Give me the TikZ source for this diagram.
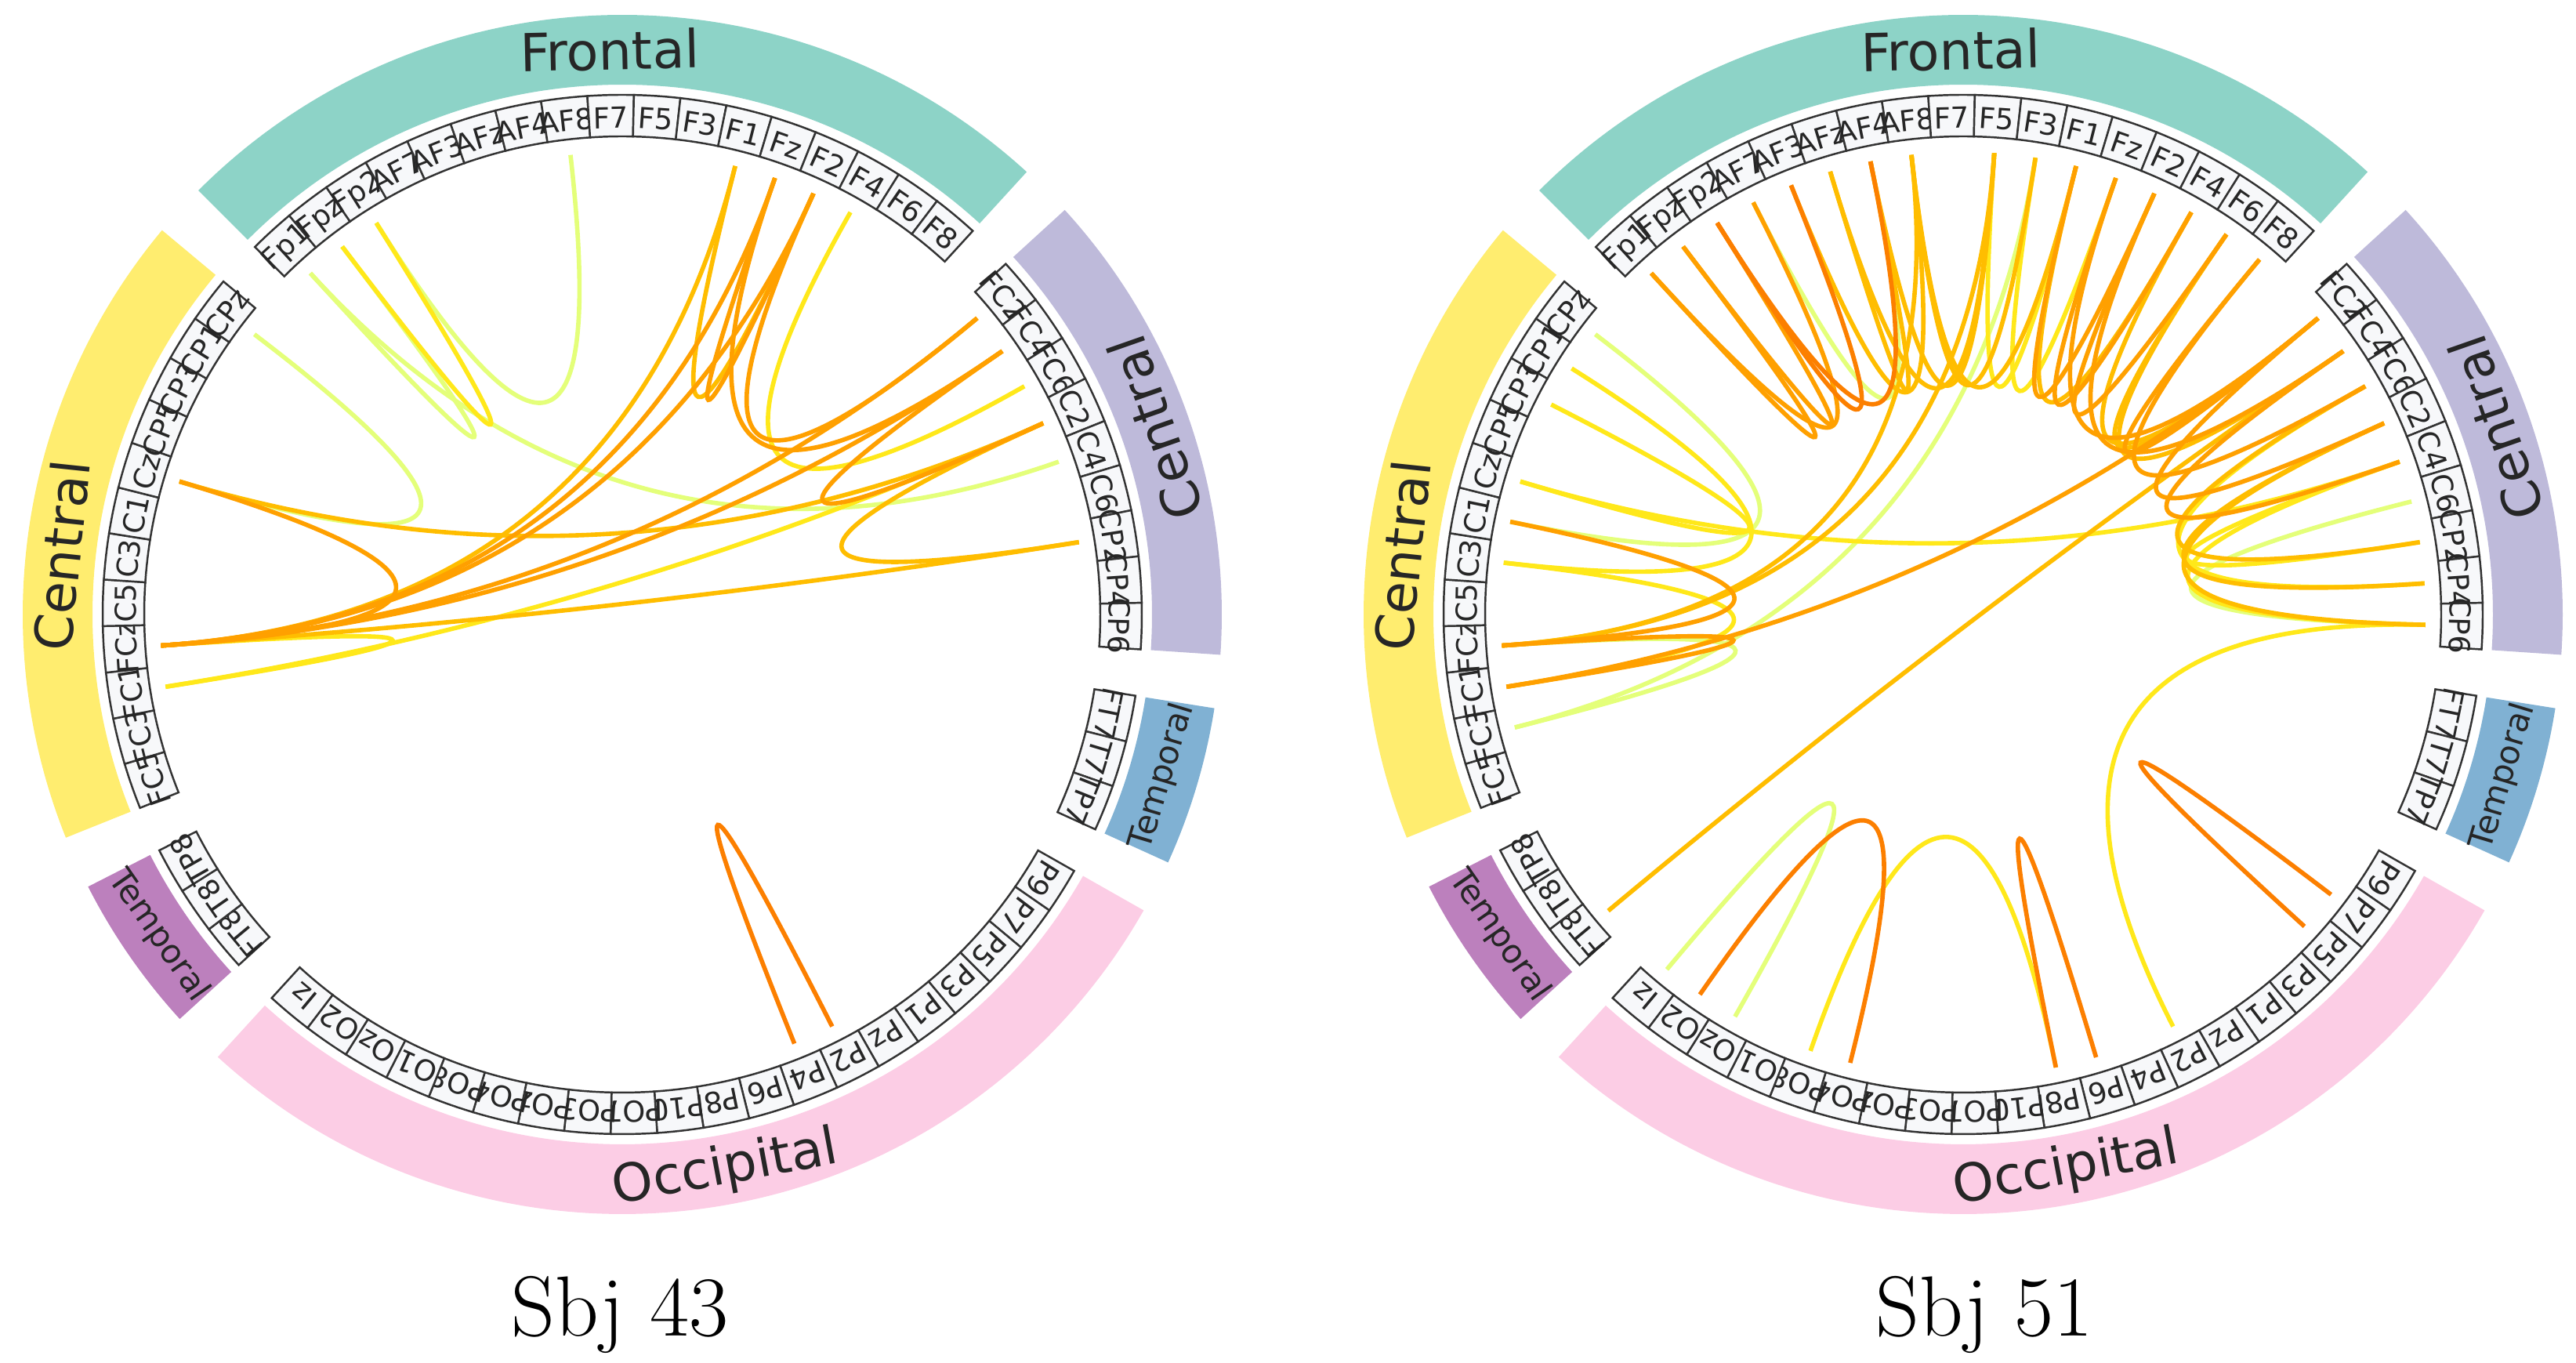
\documentclass[tikz,border=0pt]{standalone}
\usepackage{fontspec}
\newfontfamily\dejavu{DejaVu Sans}
\usetikzlibrary{calc}
\definecolor{frontalc}{HTML}{8DD3C7}
\definecolor{centralr}{HTML}{BEBADA}
\definecolor{centrall}{HTML}{FFED6F}
\definecolor{temporalr}{HTML}{80B1D3}
\definecolor{temporall}{HTML}{BC80BD}
\definecolor{occipc}{HTML}{FCCDE5}
\definecolor{boxfill}{HTML}{F7F8FA}
\definecolor{boxline}{HTML}{333333}
\definecolor{inkc}{HTML}{262626}
\definecolor{wistiaA}{HTML}{E4FF7A}
\definecolor{wistiaB}{HTML}{FFE81A}
\definecolor{wistiaC}{HTML}{FFBD00}
\definecolor{wistiaD}{HTML}{FFA000}
\definecolor{wistiaE}{HTML}{FC7F00}

\tikzset{
  chord/.style={line width=1.6pt},
  elecbox/.style={draw=boxline, fill=boxfill, line width=0.7pt},
  eleclabel/.style={font=\dejavu\fontsize{10.5}{10.5}\selectfont, text=inkc, inner sep=0pt},
  regionlabel/.style={font=\dejavu\fontsize{19}{19}\selectfont, text=inkc},
  smallregion/.style={font=\dejavu\fontsize{12}{12}\selectfont, text=inkc},
  sbjtitle/.style={font=\fontsize{31}{31}\selectfont, anchor=base}
}

% one group of electrodes: prefix, first slot, names
\newcommand{\elecgroup}[3]{%
  \foreach \n [count=\k from #2] in {#3} {
    \pgfmathsetmacro{\aS}{135-\k*5.142857}
    \pgfmathsetmacro{\aE}{\aS-5.142857}
    \pgfmathsetmacro{\aM}{\aS-2.571429}
    \pgfmathsetmacro{\aR}{\aM-90}
    \draw[elecbox] (\aS:61mm) arc[start angle=\aS, end angle=\aE, radius=61mm]
      -- (\aE:66.3mm) arc[start angle=\aE, end angle=\aS, radius=66.3mm] -- cycle;
    \node[eleclabel, rotate=\aR] at (\aM:63.4mm) {\n};
    \coordinate (#1-\n) at (\aM:59mm);
    \coordinate (#1-\n-c) at (\aM:19.7mm);
  }%
}

% coloured band: first slot, slot count, colour, label, turn, label style, nudge
\newcommand{\region}[7]{%
  \pgfmathsetmacro{\bS}{135-#1*5.142857}
  \pgfmathsetmacro{\bE}{135-(#1+#2)*5.142857}
  \pgfmathsetmacro{\bM}{(\bS+\bE)/2+#7}
  \pgfmathsetmacro{\bR}{\bM#5}
  \fill[#3] (\bS:67.6mm) arc[start angle=\bS, end angle=\bE, radius=67.6mm]
    -- (\bE:76.5mm) arc[start angle=\bE, end angle=\bS, radius=76.5mm] -- cycle;
  \node[#6, rotate=\bR] at (\bM:72mm) {#4};
}

\newcommand{\eegring}[1]{%
  \region{0}{17}{frontalc}{Frontal}{-90}{regionlabel}{0}
  \region{18}{9}{centralr}{Central}{+90}{regionlabel}{0}
  \region{28}{3}{temporalr}{Temporal}{+90}{smallregion}{0}
  \region{32}{20}{occipc}{Occipital}{+90}{regionlabel}{1.5}
  \region{53}{3}{temporall}{Temporal}{+90}{smallregion}{0}
  \region{57}{12}{centrall}{Central}{-90}{regionlabel}{3}
  \elecgroup{#1}{0}{Fp1,Fpz,Fp2,AF7,AF3,AFz,AF4,AF8,F7,F5,F3,F1,Fz,F2,F4,F6,F8}
  \elecgroup{#1}{18}{FC2,FC4,FC6,C2,C4,C6,CP2,CP4,CP6}
  \elecgroup{#1}{28}{FT7,T7,TP7}
  \elecgroup{#1}{32}{P9,P7,P5,P3,P1,Pz,P2,P4,P6,P8,P10,PO7,PO3,POz,PO4,PO8,O1,Oz,O2,Iz}
  \elecgroup{#1}{53}{FT8,T8,TP8}
  \elecgroup{#1}{57}{FC5,FC3,FC1,FCz,C5,C3,C1,Cz,CP5,CP3,CP1,CPz}
}

% chord: prefix, colour, from, to
\newcommand{\chord}[4]{\draw[chord, #2] (#1-#3) .. controls (#1-#3-c) and (#1-#4-c) .. (#1-#4);}

\begin{document}
\begin{tikzpicture}
  \useasboundingbox (0,0) rectangle (328.7mm,173.9mm);

  % Sbj 43
  \begin{scope}[shift={(79.4mm,95.5mm)}]
    \eegring{L}
    \chord{L}{wistiaA}{Fp1}{Fpz}
    \chord{L}{wistiaA}{AF8}{Fp2}
    \chord{L}{wistiaA}{CPz}{Cz}
    \chord{L}{wistiaA}{Fp1}{C4}
    \chord{L}{wistiaB}{Fpz}{Fp2}
    \chord{L}{wistiaB}{FCz}{FC1}
    \chord{L}{wistiaB}{F4}{FC6}
    \chord{L}{wistiaB}{FC1}{C2}
    \chord{L}{wistiaC}{Cz}{C2}
    \chord{L}{wistiaC}{F1}{F2}
    \chord{L}{wistiaC}{CP2}{C2}
    \chord{L}{wistiaC}{FCz}{CP2}
    \chord{L}{wistiaC}{FCz}{F1}
    \chord{L}{wistiaD}{FCz}{Fz}
    \chord{L}{wistiaD}{FCz}{F2}
    \chord{L}{wistiaD}{FCz}{FC2}
    \chord{L}{wistiaD}{FCz}{FC4}
    \chord{L}{wistiaD}{Cz}{FCz}
    \chord{L}{wistiaD}{Fz}{F2}
    \chord{L}{wistiaD}{F2}{FC2}
    \chord{L}{wistiaD}{Fz}{FC4}
    \chord{L}{wistiaD}{FC4}{C2}
    \chord{L}{wistiaE}{P2}{P4}
  \end{scope}

  % Sbj 51
  \begin{scope}[shift={(250.5mm,95.5mm)}]
    \eegring{R}
    % pale
    \chord{R}{wistiaA}{AF7}{AF4}
    \chord{R}{wistiaA}{C6}{CP6}
    \chord{R}{wistiaA}{CPz}{C1}
    \chord{R}{wistiaA}{FC3}{FCz}
    \chord{R}{wistiaA}{FC3}{F3}
    \chord{R}{wistiaA}{Iz}{Oz}
    % yellow
    \chord{R}{wistiaB}{F5}{F1}
    \chord{R}{wistiaB}{F3}{Fz}
    \chord{R}{wistiaB}{C4}{CP6}
    \chord{R}{wistiaB}{CP2}{C4}
    \chord{R}{wistiaB}{CP4}{FC6}
    \chord{R}{wistiaB}{CP1}{C3}
    \chord{R}{wistiaB}{CP3}{Cz}
    \chord{R}{wistiaB}{C3}{FC1}
    \chord{R}{wistiaB}{Cz}{C4}
    \chord{R}{wistiaB}{CP6}{P2}
    \chord{R}{wistiaB}{PO8}{P8}
    % gold
    \chord{R}{wistiaC}{AF3}{AF8}
    \chord{R}{wistiaC}{AFz}{AF4}
    \chord{R}{wistiaC}{AFz}{F5}
    \chord{R}{wistiaC}{AF4}{F5}
    \chord{R}{wistiaC}{AF8}{F3}
    \chord{R}{wistiaC}{AF8}{F1}
    \chord{R}{wistiaC}{F1}{F4}
    \chord{R}{wistiaC}{F4}{FC2}
    \chord{R}{wistiaC}{F6}{FC4}
    \chord{R}{wistiaC}{F6}{FC2}
    \chord{R}{wistiaC}{FC6}{CP2}
    \chord{R}{wistiaC}{C2}{CP4}
    \chord{R}{wistiaC}{CP6}{C2}
    \chord{R}{wistiaC}{FCz}{F5}
    \chord{R}{wistiaC}{FCz}{AF8}
    \chord{R}{wistiaC}{FT8}{FC4}
    % orange
    \chord{R}{wistiaD}{Fp1}{Fpz}
    \chord{R}{wistiaD}{Fpz}{Fp2}
    \chord{R}{wistiaD}{Fp1}{AF7}
    \chord{R}{wistiaD}{F1}{F2}
    \chord{R}{wistiaD}{Fz}{F4}
    \chord{R}{wistiaD}{F2}{F6}
    \chord{R}{wistiaD}{Fz}{FC2}
    \chord{R}{wistiaD}{F2}{FC4}
    \chord{R}{wistiaD}{F8}{FC6}
    \chord{R}{wistiaD}{F8}{FC2}
    \chord{R}{wistiaD}{FC2}{C2}
    \chord{R}{wistiaD}{FC4}{C4}
    \chord{R}{wistiaD}{C1}{FCz}
    \chord{R}{wistiaD}{FC1}{FCz}
    \chord{R}{wistiaD}{FC1}{FC2}
    % dark orange
    \chord{R}{wistiaE}{Fp2}{AF3}
    \chord{R}{wistiaE}{Fp2}{AF4}
    \chord{R}{wistiaE}{P7}{P5}
    \chord{R}{wistiaE}{O2}{PO4}
    \chord{R}{wistiaE}{P8}{P6}
  \end{scope}

  \node[sbjtitle] (titleL) at (79.1mm,3.4mm) {Sbj 43};
  \node[sbjtitle] (titleR) at (253.2mm,3.4mm) {Sbj 51};
\end{tikzpicture}
\end{document}
